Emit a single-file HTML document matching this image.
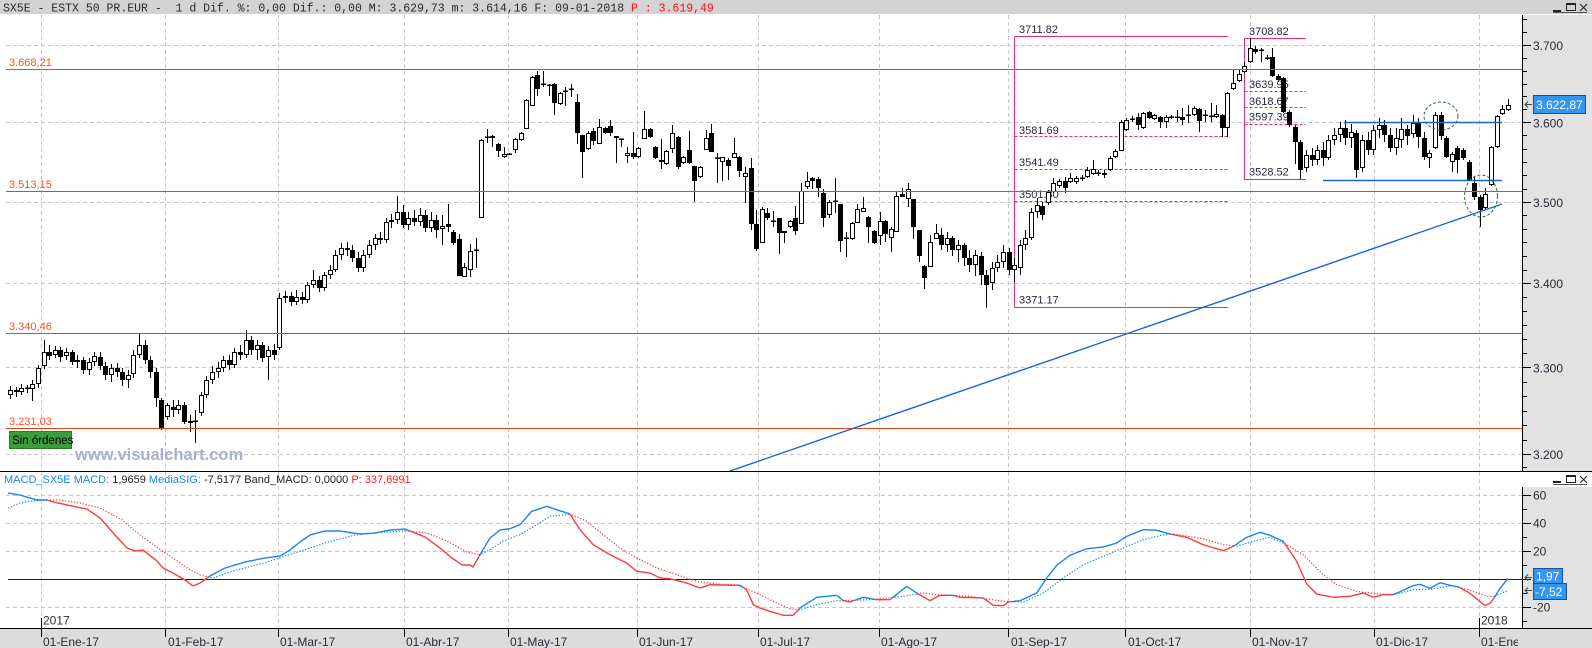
<!DOCTYPE html>
<html><head><meta charset="utf-8">
<style>
html,body{margin:0;padding:0;background:#fff;width:1592px;height:648px;overflow:hidden}
svg{display:block;font-family:"Liberation Sans",Arial,sans-serif}
.ax{font-size:12px;fill:#2a2a3a}
.fib{font-size:11px;fill:#262640}
.rl{font-size:11px;fill:#ff4e1e}
</style></head><body>
<svg id="s" width="1592" height="648" viewBox="0 0 1592 648" xmlns="http://www.w3.org/2000/svg">
<defs><clipPath id="plot"><rect x="0" y="15" width="1522" height="456"/></clipPath>
<clipPath id="bot"><rect x="0" y="629" width="1518" height="19"/></clipPath></defs>
<rect width="1592" height="648" fill="#fff"/>
<!-- header -->
<rect x="0" y="0" width="1592" height="14" fill="#d3d3d3"/>
<text x="3" y="11.5" font-family="Liberation Mono, monospace" font-size="11.5" fill="#2a2a2a" style="white-space:pre">SX5E - ESTX 50 PR.EUR -  1 d Dif. %: 0,00 Dif.: 0,00 M: 3.629,73 m: 3.614,16 F: 09-01-2018 <tspan fill="#ff1010">P : 3.619,49</tspan></text>
<g stroke="#222" fill="none" stroke-width="1">
<path d="M1553 10.5h8M1553 11.5h8"/>
<rect x="1566.5" y="3.5" width="9" height="7"/><path d="M1566 4.5h10"/>
<path d="M1580 4l7 7M1587 4l-7 7"/>
<path d="M1553 12.5h34" stroke="#555"/>
</g>
<!-- right panels -->
<rect x="1522" y="15" width="70" height="456" fill="#e2e2e2"/>
<rect x="1522" y="487" width="70" height="141" fill="#e2e2e2"/>
<rect x="0" y="629" width="1592" height="19" fill="#dcdcdc"/>
<!-- grid -->
<g stroke="#c6c6c6" stroke-width="1" stroke-dasharray="4 3" fill="none">
<path d="M41.5 15V471M165.5 15V471M278.5 15V471M404.5 15V471M508.5 15V471M637.5 15V471M758.5 15V471M879.5 15V471M1008.5 15V471M1125.5 15V471M1250.5 15V471M1374.5 15V471M1479.5 15V471"/>
<path d="M41.5 472V628M165.5 472V628M278.5 472V628M404.5 472V628M508.5 472V628M637.5 472V628M758.5 472V628M879.5 472V628M1008.5 472V628M1125.5 472V628M1250.5 472V628M1374.5 472V628M1479.5 472V628"/>
<path d="M6 45.5H1522M6 122.5H1522M6 202.5H1522M6 283.5H1522M6 367.5H1522M6 454.5H1522"/>
<path d="M6 495.5H1522M6 523.5H1522M6 551.5H1522M6 607.5H1522"/>
</g>
<path d="M8 579.5H1522" stroke="#1e1e1e" stroke-width="1"/>
<!-- axes lines -->
<g stroke="#000" stroke-width="1" fill="none">
<path d="M1522.5 15V471M1522.5 487V628"/>
<path d="M0 471.5H1592M0 628.5H1592"/>
<path d="M1522 45.5h9M1522 122.5h9M1522 202.5h9M1522 283.5h9M1522 367.5h9M1522 454.5h9"/>
<path d="M1522 19.5h5M1522 32.5h5M1522 58.5h5M1522 71.5h5M1522 84.5h5M1522 96.5h5M1522 109.5h5M1522 135.5h5M1522 149.5h5M1522 162.5h5M1522 175.5h5M1522 189.5h5M1522 215.5h5M1522 229.5h5M1522 242.5h5M1522 256.5h5M1522 270.5h5M1522 297.5h5M1522 311.5h5M1522 325.5h5M1522 339.5h5M1522 353.5h5M1522 382.5h5M1522 396.5h5M1522 411.5h5M1522 425.5h5M1522 440.5h5M1522 467.5h5"/>
<path d="M1522 495.5h9M1522 523.5h9M1522 551.5h9M1522 579.5h9M1522 607.5h9M1522 509.5h5M1522 537.5h5M1522 565.5h5M1522 593.5h5M1522 621.5h5"/>
<path d="M41.5 628V637M165.5 628V637M278.5 628V637M404.5 628V637M508.5 628V637M637.5 628V637M758.5 628V637M879.5 628V637M1008.5 628V637M1125.5 628V637M1250.5 628V637M1374.5 628V637M1479.5 628V637M41.5 618V628M1479.5 618V628"/>
</g>
<!-- right axis labels -->
<g class="ax">
<text x="1533" y="50">3.700</text><text x="1533" y="127.5">3.600</text><text x="1533" y="207">3.500</text>
<text x="1533" y="288">3.400</text><text x="1533" y="372.5">3.300</text><text x="1533" y="459">3.200</text>
<text x="1533" y="499.5">60</text><text x="1533" y="527.5">40</text><text x="1533" y="555.5">20</text><text x="1533" y="611.5">-20</text>
</g>
<!-- bottom labels -->
<g class="ax" clip-path="url(#bot)">
<text x="43" y="646">01-Ene-17</text><text x="168" y="646">01-Feb-17</text><text x="280" y="646">01-Mar-17</text>
<text x="406" y="646">01-Abr-17</text><text x="510" y="646">01-May-17</text><text x="639" y="646">01-Jun-17</text>
<text x="760" y="646">01-Jul-17</text><text x="881" y="646">01-Ago-17</text><text x="1011" y="646">01-Sep-17</text>
<text x="1128" y="646">01-Oct-17</text><text x="1252" y="646">01-Nov-17</text><text x="1376" y="646">01-Dic-17</text>
<text x="1481" y="646">01-Ene-18</text>
</g>
<text class="ax" x="43" y="624.5">2017</text><text class="ax" x="1481" y="624.5">2018</text>
<!-- MACD header -->
<text x="4" y="483" font-size="11" style="white-space:pre"><tspan fill="#1a84f0">MACD_SX5E MACD: </tspan><tspan fill="#222">1,9659 </tspan><tspan fill="#1a84f0">MediaSIG: </tspan><tspan fill="#222">-7,5177 Band_MACD: 0,0000 </tspan><tspan fill="#ff2020">P: 337,6991</tspan></text>
<g stroke="#222" fill="none" stroke-width="1">
<path d="M1553 481.5h8M1553 482.5h8"/>
<rect x="1566.5" y="475.5" width="9" height="7"/><path d="M1566 476.5h10"/>
<path d="M1580 476l7 7M1587 476l-7 7"/>
<path d="M1553 484.5h34" stroke="#555"/>
</g>
<!-- fib labels -->
<g class="fib">
<text x="1019" y="33">3711.82</text><text x="1019" y="134">3581.69</text><text x="1019" y="166">3541.49</text>
<text x="1019" y="198">3501.30</text><text x="1019" y="303.5">3371.17</text>
<text x="1249" y="35">3708.82</text><text x="1249" y="88">3639.95</text><text x="1249" y="105">3618.67</text>
<text x="1249" y="120.5">3597.39</text><text x="1249" y="175.5">3528.52</text>
</g>
<g stroke="#e8287c" stroke-width="1" fill="none">
<path d="M1014.5 36.5V307.5M1014.5 36.5H1228M1014.5 307.5H1228"/>
<path d="M1014.5 136.5H1228M1014.5 169.5H1228M1014.5 201.5H1228" stroke-dasharray="3 2"/>
<path d="M1244.5 38.5V179.5H1306M1244.5 38.5H1306"/>
<path d="M1244.5 91.5H1306M1244.5 107.5H1306M1244.5 124.5H1306" stroke-dasharray="3 2"/>
</g>
<!-- candles -->
<g id="candles" clip-path="url(#plot)"></g>
<!-- red level lines -->
<g stroke="#f04010" stroke-width="1">
<path d="M6 69.5H1522M6 191.5H1522M6 333.5H1522M6 428.5H1522"/>
</g>
<g class="rl">
<text x="9" y="66">3.668,21</text><text x="9" y="188">3.513,15</text><text x="9" y="330">3.340,46</text><text x="9" y="425">3.231,03</text>
</g>
<!-- blue trend lines -->
<g stroke="#1565d8" stroke-width="1.4" fill="none" clip-path="url(#plot)">
<path d="M1344 122.5H1502M1323 180.5H1502"/>
<path d="M730 471L1502 204"/>
</g>
<g stroke="#2f6f2f" stroke-width="1" fill="none" stroke-dasharray="3 2">
<ellipse cx="1441" cy="116" rx="17" ry="14"/>
<ellipse cx="1481" cy="196" rx="16.5" ry="21"/>
</g>
<!-- sin ordenes & watermark -->
<rect x="9.5" y="431.5" width="62" height="17" fill="#3a9e3a" stroke="#2a7a2a"/>
<text x="12" y="444" font-size="11.5" fill="#000">Sin órdenes</text>
<text x="75" y="460" font-size="16.5" font-weight="bold" fill="#a9afd0">www.visualchart.com</text>
<!-- MACD lines -->
<g id="macd" fill="none"></g>
<!-- value boxes -->
<rect x="1533.5" y="95.5" width="52" height="18" fill="#3596f2" stroke="#1b4f8a"/>
<text x="1536" y="109" font-size="12" fill="#fff">3.622,87</text>
<path d="M1532 104.5H1525M1528 101.5L1525 104.5L1528 107.5" stroke="#444" fill="none"/>
<rect x="1533.5" y="583.5" width="33" height="16" fill="#3596f2" stroke="#1b4f8a"/>
<text x="1535" y="596" font-size="12" fill="#fff">-7,52</text>
<rect x="1533.5" y="568.5" width="29" height="15" fill="#3596f2" stroke="#1b4f8a"/>
<text x="1536" y="580.5" font-size="12" fill="#fff">1,97</text>
<path d="M1532 577.5H1525M1528 574.5L1525 577.5L1528 580.5M1532 590.5H1525M1528 587.5L1525 590.5L1528 593.5" stroke="#444" fill="none"/>
</svg>
<script>
(function(){
var D=[
"395,390,386,399","390,392,387,397","392,388,384,395","388,389,385,393","389,384,380,401","384,368,365,388","366,352,340,369","352,356,345,360","355,350,346,358","350,357,347,362",
"356,352,348,360","352,362,350,365","362,360,355,368","360,370,357,374","370,362,358,375","362,356,352,366","357,366,352,370","366,375,362,380","375,368,364,382","368,372,363,377",
"372,380,368,386","380,375,370,388","374,355,350,378","355,345,333,358","345,360,340,364","360,372,356,378","372,398,368,407","400,428,398,430","417,405,403,420","407,410,400,417",
"410,405,400,414","405,422,402,424","421,423,415,432","422,421,410,443","413,395,392,416","395,380,376,398","380,372,366,384","372,368,362,378","368,360,356,372","360,365,355,370",
"365,352,348,368","352,355,345,360","355,340,330,358","340,350,336,355","350,345,340,360","345,358,342,362","357,350,346,380","350,355,344,360","348,298,293,350","298,296,291,303",
"296,302,292,306","302,297,290,305","297,300,292,304","300,285,282,303","285,280,270,288","280,288,276,292","288,275,272,291","275,270,265,279","270,255,250,272","255,248,243,260",
"248,250,242,256","250,258,245,262","258,268,252,272","268,255,250,272","255,245,240,258","245,238,234,250","238,240,232,244","240,222,218,243","222,220,214,228","220,212,196,224",
"212,225,205,228","225,218,212,230","218,222,210,226","222,215,208,226","215,228,210,232","228,220,212,232","220,230,215,238",
"229,226,215,245","224,227,204,232","232,243,230,245","239,276,234,276","277,267,263,277","270,251,244,277","250,250,238,268","218,140,139,218","137,137,129,143","136,138,135,147",
"144,151,143,157","157,154,147,158","154,154,153,155","150,139,138,153","140,133,132,141","129,100,99,129","106,77,76,106","75,89,71,96","84,85,71,87","85,86,84,96",
"84,103,83,115","104,93,92,105","91,91,87,106","89,89,84,97","102,133,94,144","135,152,135,178","149,133,131,150","131,141,128,145","144,127,119,144","128,133,127,134",
"126,133,120,136","136,138,136,163","139,139,139,147","156,153,147,163","153,157,132,159","157,148,147,158","139,129,111,139","129,137,128,138","147,158,146,159","160,162,139,169",
"164,151,150,165","149,133,125,153","137,167,136,169","163,157,156,164","150,163,131,164","166,181,166,202","177,167,166,178","150,138,130,150","133,152,124,152","158,158,153,183",
"162,157,157,181","160,166,158,180","158,153,138,158","157,171,156,177","177,173,167,203","168,224,158,230","224,249,210,251","243,209,207,243","213,218,208,220","221,221,211,227",
"218,233,218,254","233,231,231,243","227,221,220,228","218,231,206,235","224,191,183,224","187,181,172,189","178,181,177,189","179,188,177,197","193,218,189,227","215,202,200,218",
"201,201,178,213","204,241,204,252","238,238,232,257","239,223,222,240","223,209,204,223","212,208,197,212","217,227,216,243","231,243,230,244","236,221,212,245","221,234,220,242",
"238,229,227,252","232,196,191,232","194,197,188,197","199,189,183,207","199,227,199,239","230,256,230,262","266,278,265,289","267,242,235,267","239,233,224,239",
"235,245,228,250","245,238,232,252","238,250,236,256","250,245,240,262","245,258,243,266","258,265,250,272","265,255,250,276","256,275,252,285","275,285,270,307.6","283,268,262,290",
"268,262,255,272","262,252,245,268","252,270,248,275","270,265,258,282","268,245,240,275","245,238,230,250","238,212,208,240","212,205,198,218","206,215,202,220",
"203,192,190,205","192,183,178,193","186,181,179,188","181,188,177,193","182,178,173,183","182,178,176,184","178,178,175,181","177,170,167,178","174,169,160,175","173,173,170,176",
"173,175,170,178","170,158,156,171","157,151,149,158","151,122,120,151","130,120,118,131","119,119,116,122","117,125,113,130","128,113,112,129","112,118,111,119","119,115,114,120",
"117,122,116,128","122,117,115,128","117,117,115,119","117,117,110,122","117,120,108,125","115,115,105,123","115,108,106,116","109,121,108,132","115,115,110,122","116,116,103,122",
"117,114,105,118","115,128,114,137","128,93,92,137","89,83,70,90","81,74,70,82","72,66,62,73","62,48,38.3,63","49,52,46,54","50,50,48,62","58,58,55,60",
"57,76,48,77","76,80,74,82","78,112,77,113","112,125,110,127","127,142,125,164",
"142,170,140,179","168,155,150,172","155,160,148,166","160,150,145,165","150,158,142,166","158,140,135,160","140,135,128,145","135,128,122,142","128,138,120,145","138,132,124,148",
"133,170,130,178","168,140,135,172","140,150,132,155","150,130,125,155","130,125,118,138","125,135,120,142","135,148,128,152","148,138,128,155",
"140,129,118,148","129,136,125,145","134,123,115,138","123,137,118,148","138,157,132,160","158,153,150,168","148,115,112,149","115,136,112,140","138,157,136,158","162,154,152,172",
"148,160,146,173","150,158,148,160","162,180,160,181","183,197,177,200","197,210,195,227","208,194,188,209","185,147,146,186","147,116,115,148","114,109,105,115","110,105,99,111"];
var out='';
for(var i=0;i<D.length;i++){
 var r=D[i].split(',').map(Number),o=r[0],c=r[1],h=r[2],l=r[3];
 var cx=Math.round(10+5.61*i);
 var top=Math.min(o,c),bot=Math.max(o,c);
 out+='<line x1="'+(cx+0.5)+'" y1="'+h+'" x2="'+(cx+0.5)+'" y2="'+l+'" stroke="#000" stroke-width="1"/>';
 if(bot-top<1.5){out+='<rect x="'+(cx-2)+'" y="'+(Math.round(top)-0.5)+'" width="5" height="1.5" fill="#000"/>';}
 else if(c<o){out+='<rect x="'+(cx-1.5)+'" y="'+(top+0.5)+'" width="4" height="'+(bot-top-1)+'" fill="#fff" stroke="#000" stroke-width="1"/>';}
 else{out+='<rect x="'+(cx-2)+'" y="'+top+'" width="5" height="'+(bot-top)+'" fill="#000"/>';}
}
document.getElementById('candles').innerHTML=out;

var M=[8,493,20,495,30,498,37,500,47,500,50,501,67,505,87,509,100,518,115,535,127,548,135,551,143,550,157,561,163,568,173,573,185,580,193,586,200,583,210,576,225,568,245,562,265,558,280,556,290,550,300,542,310,535,325,531,340,531,360,534,375,533,390,530,405,529,415,533,425,537,440,548,452,558,462,565,470,565,473,567,480,554.7,490,538,500,530,510,528.7,520,524.7,531.7,511.3,546.7,506.3,556.7,509.7,570,514,580,529.7,593.3,544.7,610,554.7,626.7,563,636.7,571.3,650,573,660,578,670,578.7,686.7,583,700,588,710,584.7,730,585.3,740,585.3,746.7,589.7,753.3,604.7,760,608,770,611.3,783.3,615.3,793.3,615.3,800,608,816.7,597.3,836.7,595.3,843.3,600.7,850,602,863.3,597.3,876.7,599.7,890,599.7,906.7,586.3,916.7,593,930,600.7,940,595.3,953.3,595.3,960,597.3,970,597.5,983.3,598,993.3,605.3,1003.3,605.7,1008.3,602,1020,600.7,1036.7,593,1046.7,578,1056.7,565.3,1070,555.3,1086.7,548.7,1103.3,547,1116.7,543,1126.7,536.3,1143.3,529.7,1156.7,530.3,1170,534,1186.7,537.3,1203.3,544.7,1223.3,550.7,1233.3,546.3,1246.7,537.3,1260,532.3,1270,535.3,1283.3,541.3,1296.7,561.3,1306.7,584,1316.7,594,1333.3,597.3,1350,596.3,1363.3,593,1373.3,597.3,1383.3,594.7,1393.3,594.7,1400,591.7,1413,585.7,1420,584.3,1430,588.3,1440,582.7,1451.7,585.7,1458,586.7,1470,593.3,1480,601.7,1485,605.7,1490,603.3,1495,596.7,1500,588.3,1509,577.3];
var S=[8,508,20,503,33,500.7,47,500,60,500,80,503,100,508,122,520,140,535,158,548,173,558,187,568,200,575,213,578,233,571,264,563,295,553,325,543,355,535,386,532,406,531,427,533,447,541,467,552,480,554.7,490,549.7,503,541,520,534.7,536.7,524.7,550,516.3,570,514,586.7,521.3,603.3,534.7,620,548,636.7,558,656.7,568,676.7,574.7,696.7,581.3,716.7,584,736.7,584.7,756.7,593,776.7,603,790,608.7,800,609.7,816.7,604.7,836.7,600.7,870,599.7,903.3,596.3,923.3,593,936.7,594.7,970,596.3,1003.3,601.3,1023.3,602,1043.3,593,1063.3,578,1083.3,564.7,1103.3,556.3,1123.3,548,1143.3,539.7,1163.3,534.7,1173.3,534,1203.3,538.7,1223.3,544.7,1236.7,546.3,1253.3,541.3,1270,537.3,1286.7,544.7,1303.3,554.7,1323.3,574.7,1336.7,584.7,1356.7,591.3,1376.7,593.7,1393.3,594.7,1413.3,589.7,1433,589,1451.7,585.7,1466.7,589.3,1486.7,596,1493,596.7,1500,594,1508,590.7];
function itp(A,x){
 if(x<=A[0])return A[1];
 for(var k=0;k<A.length-2;k+=2){
  if(x>=A[k]&&x<=A[k+2]){var t=(x-A[k])/(A[k+2]-A[k]);return A[k+1]+t*(A[k+3]-A[k+1]);}
 }
 return A[A.length-1];
}
var BL='#1a84f0',RD='#ff3b3b';
var pts=[];
for(var x=8;x<=1509;x+=1.5){pts.push([x,itp(M,x),itp(S,x)]);}
function build(idx,dash,w){
 var s='',cur=null,seg=[];
 for(var j=0;j<pts.length;j++){
  var p=pts[j],col=(p[1]<=p[2])?BL:RD;
  if(col!==cur){
   if(seg.length>1)s+='<polyline points="'+seg.join(' ')+'" stroke="'+cur+'" stroke-width="'+w+'"'+(dash?' stroke-dasharray="1.3 1.7"':'')+'/>';
   seg=j>0?[pts[j-1][0]+','+pts[j-1][idx].toFixed(1)]:[];
   cur=col;
  }
  seg.push(p[0]+','+p[idx].toFixed(1));
 }
 if(seg.length>1)s+='<polyline points="'+seg.join(' ')+'" stroke="'+cur+'" stroke-width="'+w+'"'+(dash?' stroke-dasharray="1.3 1.7"':'')+'/>';
 return s;
}
document.getElementById('macd').innerHTML=build(2,true,1.2)+build(1,false,1.4);
})();
</script>
</body></html>
